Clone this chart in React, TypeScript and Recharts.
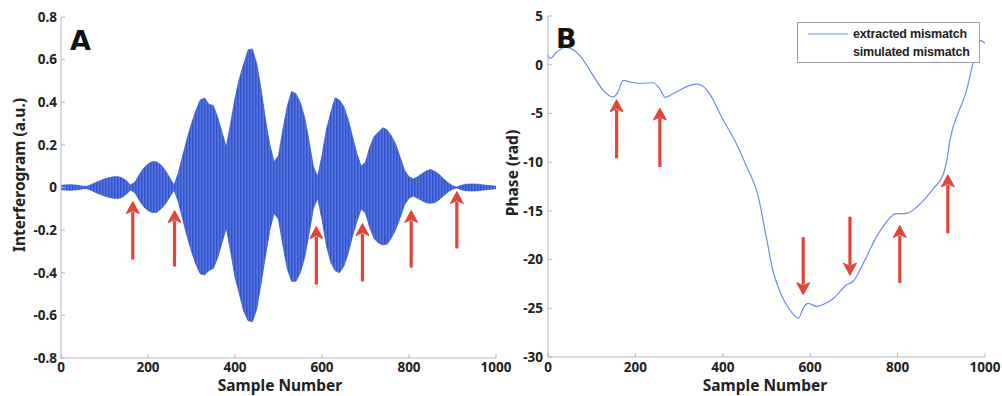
import { ComposedChart, LineChart, Line, Area, XAxis, YAxis, ReferenceLine, Label } from 'recharts'

// panel A: interferogram envelope, read every 10 samples
const INTERF_STEP = 10
const INTERF_UPPER = [
  0.010, 0.012, 0.013, 0.012, 0.010, 0.006, 0.006, 0.014, 0.024, 0.032,
  0.040, 0.046, 0.050, 0.051, 0.046, 0.032, 0.012, 0.025, 0.060, 0.090,
  0.110, 0.122, 0.120, 0.105, 0.080, 0.045, 0.012, 0.070, 0.150, 0.230,
  0.300, 0.360, 0.410, 0.420, 0.390, 0.385, 0.330, 0.260, 0.190, 0.300,
  0.420, 0.510, 0.580, 0.645, 0.650, 0.580, 0.460, 0.320, 0.200, 0.120,
  0.150, 0.270, 0.380, 0.450, 0.440, 0.400, 0.330, 0.220, 0.100, 0.050,
  0.150, 0.270, 0.350, 0.420, 0.410, 0.380, 0.320, 0.240, 0.160, 0.100,
  0.120, 0.190, 0.240, 0.260, 0.280, 0.270, 0.240, 0.200, 0.140, 0.080,
  0.050, 0.040, 0.050, 0.065, 0.078, 0.084, 0.075, 0.060, 0.040, 0.022,
  0.008, 0.002, 0.010, 0.015, 0.016, 0.016, 0.015, 0.012, 0.010, 0.008,
  0.006,
]
const INTERF_LOWER = [
  -0.010, -0.012, -0.013, -0.012, -0.010, -0.006, -0.006, -0.014, -0.024, -0.032,
  -0.040, -0.046, -0.050, -0.052, -0.047, -0.032, -0.012, -0.025, -0.060, -0.090,
  -0.108, -0.118, -0.116, -0.100, -0.078, -0.045, -0.012, -0.070, -0.150, -0.230,
  -0.300, -0.360, -0.405, -0.410, -0.390, -0.380, -0.330, -0.260, -0.190, -0.300,
  -0.420, -0.500, -0.580, -0.625, -0.630, -0.570, -0.450, -0.320, -0.200, -0.120,
  -0.150, -0.270, -0.380, -0.440, -0.440, -0.400, -0.330, -0.220, -0.100, -0.050,
  -0.150, -0.270, -0.350, -0.390, -0.400, -0.370, -0.310, -0.230, -0.160, -0.100,
  -0.120, -0.190, -0.240, -0.260, -0.270, -0.265, -0.235, -0.195, -0.140, -0.080,
  -0.050, -0.040, -0.050, -0.062, -0.072, -0.074, -0.070, -0.056, -0.038, -0.020,
  -0.008, -0.002, -0.010, -0.015, -0.016, -0.016, -0.015, -0.012, -0.010, -0.008,
  -0.006,
]

// panel B: extracted phase mismatch
const PHASE_SAMPLES = [
  0, 5, 20, 40, 55, 150, 160, 172, 190, 210, 240, 255, 268, 285, 302, 320, 340, 355, 370,
  400, 430, 455, 480, 500, 515, 530, 554, 573, 585, 596, 615, 630, 653, 683, 699, 710,
  729, 750, 767, 785, 794, 821, 844, 862, 882, 904, 912, 920, 927, 940, 958, 973, 982,
  989, 1000,
]
const PHASE_VALUES = [
  1.0, 0.65, 1.3, 1.8, 1.6, -3.3, -2.8, -1.6, -1.8, -1.9, -1.85, -2.4, -3.35, -3.0, -2.6, -2.2, -2.0, -2.2, -3.0,
  -5.6, -8.0, -10.5, -13.3, -17.8, -21.2, -23.2, -25.2, -26.0, -24.9, -24.5, -24.8, -24.6, -24.0, -22.6, -22.2, -21.4,
  -19.7, -17.8, -16.6, -15.6, -15.3, -15.25, -14.6, -13.8, -12.7, -11.3, -10.0, -7.7, -6.4, -4.8, -2.6, 0.3, 2.0,
  2.5, 2.2,
]

const LEGEND_NAMES = ['extracted mismatch', 'simulated mismatch']

// arrows: sample, tail value, tip value
const ARROWS_A = [
  { s: 165, from: -0.338, to: -0.066 },
  { s: 261, from: -0.371, to: -0.108 },
  { s: 587, from: -0.455, to: -0.183 },
  { s: 693, from: -0.441, to: -0.169 },
  { s: 805, from: -0.376, to: -0.108 },
  { s: 910, from: -0.286, to: -0.019 },
]
const ARROWS_B = [
  { s: 157, from: -9.6, to: -3.6 },
  { s: 256, from: -10.5, to: -4.45 },
  { s: 584, from: -17.7, to: -23.6 },
  { s: 691, from: -15.6, to: -21.6 },
  { s: 805, from: -22.4, to: -16.5 },
  { s: 915, from: -17.3, to: -11.3 },
]

const X_TICKS = [0, 200, 400, 600, 800, 1000]
const A_TICKS = [-0.8, -0.6, -0.4, -0.2, 0, 0.2, 0.4, 0.6, 0.8]
const B_TICKS = [-30, -25, -20, -15, -10, -5, 0, 5]

const interfData = INTERF_UPPER.map((hi, i) => ({ s: i * INTERF_STEP, band: [INTERF_LOWER[i], hi] }))
const phaseData = PHASE_SAMPLES.map((s, i) => ({ s, phase: PHASE_VALUES[i] }))

const FONT = "'Noto Sans', sans-serif"
const tickStyle = { fontFamily: FONT, fontSize: 13.5, fontWeight: 700, fill: '#222' }
const titleStyle = { fontFamily: FONT, fontSize: 15.5, fontWeight: 700, fill: '#222' }
const BOX = '#b4b4be'
const RED = '#e0443b'

const Arrow = (props: any) => {
  const { x1, y1, x2, y2 } = props
  const dir = y2 < y1 ? 1 : -1
  const head = 10
  const baseY = y2 + dir * head
  return (
    <g>
      <line x1={x1} y1={y1} x2={x2} y2={baseY} stroke={RED} strokeWidth={3.2} />
      <path d={`M${x2},${y2} L${x2 - 6.5},${baseY + dir * 2} L${x2},${baseY - dir * 1} L${x2 + 6.5},${baseY + dir * 2} Z`} fill={RED} stroke={RED} strokeWidth={1} strokeLinejoin="round" />
    </g>
  )
}

const aFmt = (v: number) => (v === 0 ? '0' : v.toFixed(1))

// wider than its half so the "1000" tick label can spill under panel B
const PanelA = () => (
  <ComposedChart width={520} height={396} data={interfData} margin={{ top: 17, right: 24, bottom: 0, left: 0 }}>
    <defs>
      <pattern id="stripes" width="3" height="10" patternUnits="userSpaceOnUse">
        <rect width="3" height="10" fill="#5676e0" />
        <rect width="1.5" height="10" fill="#3152cc" />
      </pattern>
    </defs>
    <XAxis dataKey="s" type="number" domain={[0, 1000]} ticks={X_TICKS} height={38}
      stroke={BOX} tickSize={-4} tickMargin={8} tick={tickStyle} interval={0}>
      <Label content={() => (
        <text x={280} y={391} textAnchor="middle" style={titleStyle}>Sample Number</text>
      )} />
    </XAxis>
    <XAxis xAxisId="top" orientation="top" dataKey="s" type="number" domain={[0, 1000]} ticks={X_TICKS}
      height={0} stroke={BOX} tickSize={-4} tickFormatter={() => ''} />
    <YAxis type="number" domain={[-0.8, 0.8]} ticks={A_TICKS} width={61} stroke={BOX}
      tickSize={-4} tickMargin={8} tick={tickStyle} tickFormatter={aFmt} interval={0}>
      <Label content={() => (
        <text x={25} y={175} transform="rotate(-90 25 175)" textAnchor="middle" style={titleStyle}>Interferogram (a.u.)</text>
      )} />
    </YAxis>
    <YAxis yAxisId="right" orientation="right" type="number" domain={[-0.8, 0.8]} ticks={A_TICKS}
      width={0} stroke={BOX} tickSize={-4} tickFormatter={() => ''} />
    <Area dataKey="band" type="linear" fill="url(#stripes)" fillOpacity={1} stroke="#3a5bd2" strokeWidth={0.8} isAnimationActive={false} />
    {ARROWS_A.map((a, i) => (
      <ReferenceLine key={i} segment={[{ x: a.s, y: a.from }, { x: a.s, y: a.to }]} shape={Arrow} />
    ))}
  </ComposedChart>
)

const PanelB = () => (
  <LineChart width={502} height={396} data={phaseData} margin={{ top: 16, right: 17, bottom: 0, left: 0 }}>
    <XAxis dataKey="s" type="number" domain={[0, 1000]} ticks={X_TICKS} height={39}
      stroke={BOX} tickSize={-4} tickMargin={9} tick={tickStyle} interval={0}>
      <Label content={() => (
        <text x={265} y={391} textAnchor="middle" style={titleStyle}>Sample Number</text>
      )} />
    </XAxis>
    <XAxis xAxisId="top" orientation="top" dataKey="s" type="number" domain={[0, 1000]} ticks={X_TICKS}
      height={0} stroke={BOX} tickSize={-4} tickFormatter={() => ''} />
    <YAxis type="number" domain={[-30, 5]} ticks={B_TICKS} width={48} stroke={BOX}
      tickSize={-4} tickMargin={9} tick={tickStyle} interval={0}>
      <Label content={() => (
        <text x={18} y={173} transform="rotate(-90 18 173)" textAnchor="middle" style={titleStyle}>Phase (rad)</text>
      )} />
    </YAxis>
    <YAxis yAxisId="right" orientation="right" type="number" domain={[-30, 5]} ticks={B_TICKS}
      width={0} stroke={BOX} tickSize={-4} tickFormatter={() => ''} />
    <Line dataKey="phase" type="monotone" stroke="#6b8cf0" strokeWidth={1.2} dot={false} isAnimationActive={false} />
    {ARROWS_B.map((a, i) => (
      <ReferenceLine key={i} segment={[{ x: a.s, y: a.from }, { x: a.s, y: a.to }]} shape={Arrow} />
    ))}
  </LineChart>
)

const letterStyle = {
  position: 'absolute' as const,
  fontFamily: "'DejaVu Sans', sans-serif",
  fontWeight: 900,
  fontSize: 27,
  lineHeight: '27px',
  color: '#111',
}

export default function App() {
  return (
    <div style={{ position: 'absolute', left: 0, top: 0, width: 1002, height: 396, background: '#fff', overflow: 'hidden' }}>
      <div style={{ position: 'absolute', left: 0, top: 0 }}>
        <PanelA />
      </div>
      <div style={{ position: 'absolute', left: 500, top: 0 }}>
        <PanelB />
      </div>
      <div style={{ ...letterStyle, left: 70, top: 27 }}>A</div>
      <div style={{ ...letterStyle, left: 556, top: 25 }}>B</div>
      <div style={{
        position: 'absolute', left: 797, top: 22, width: 183, height: 41, boxSizing: 'border-box',
        border: '1px solid #9a9aa8', background: '#fff',
        fontFamily: "'Liberation Sans', sans-serif", fontWeight: 700, fontSize: 12.5, color: '#222',
      }}>
        {LEGEND_NAMES.map((name, i) => (
          <div key={name} style={{ position: 'absolute', left: 0, top: 4 + i * 18, height: 16, width: 181 }}>
            <svg width={50} height={16} style={{ position: 'absolute', left: 0, top: 0 }}>
              <line x1={10} y1={7} x2={50} y2={7} stroke={i === 0 ? '#6b8cf0' : 'transparent'} strokeWidth={1} />
            </svg>
            <span style={{ position: 'absolute', left: 55, top: 0, letterSpacing: -0.2 }}>{name}</span>
          </div>
        ))}
      </div>
    </div>
  )
}
